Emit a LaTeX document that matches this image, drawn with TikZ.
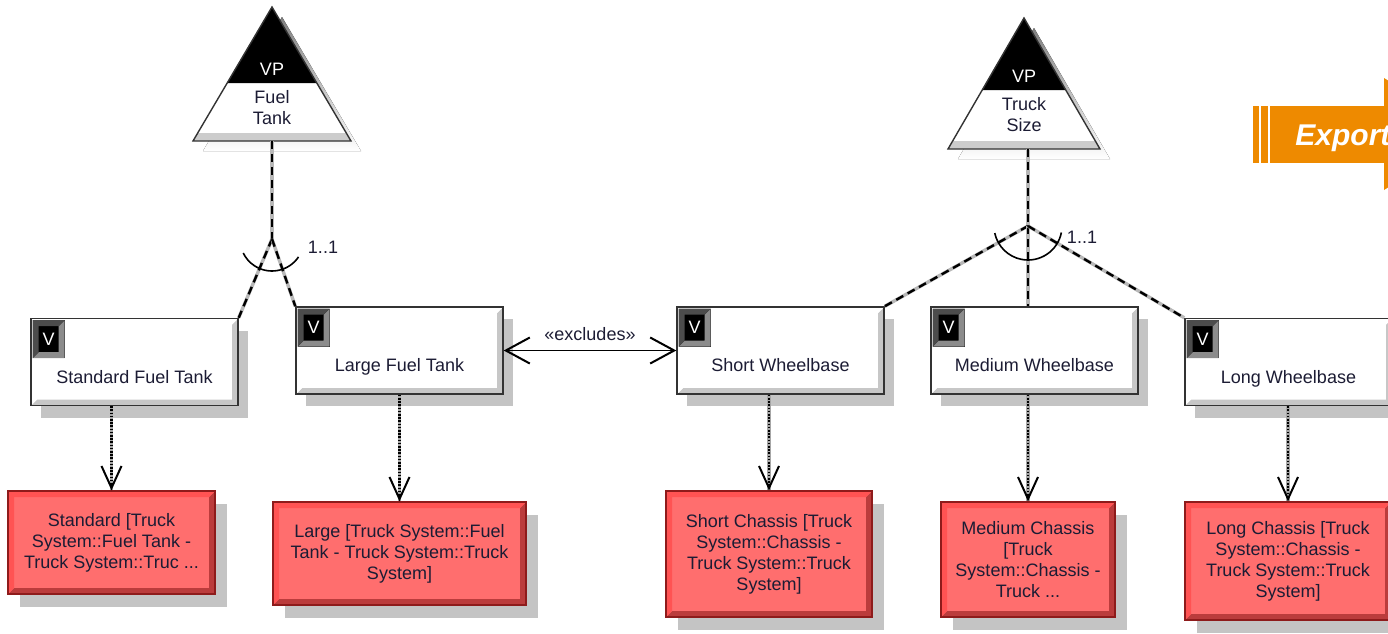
\documentclass[tikz,border=0pt]{standalone}
\usepackage{fontspec}
\setmainfont{Liberation Sans}
\usetikzlibrary{arrows.meta,positioning,calc,shadows}
\definecolor{ink}{HTML}{1C1C34}
\definecolor{redfill}{HTML}{FF6E6E}
\definecolor{redline}{HTML}{8E1B1B}
\definecolor{shade}{HTML}{C4C4C4}
\definecolor{export}{HTML}{EE8A00}

\begin{document}
\begin{tikzpicture}[x=0.5pt,y=-0.5pt,font=\fontsize{9}{10.5}\selectfont,text=ink,
    bevel/.style 2 args={path picture={
      \fill[#2] ([xshift=-3pt,yshift=-3pt]path picture bounding box.north east)
        -- (path picture bounding box.north east) -- (path picture bounding box.south east)
        -- (path picture bounding box.south west) -- ([xshift=3pt,yshift=3pt]path picture bounding box.south west)
        -- ([xshift=-3pt,yshift=3pt]path picture bounding box.south east) -- cycle;
      \fill[#1] ([xshift=-3pt,yshift=-3pt]path picture bounding box.north east)
        -- (path picture bounding box.north east) -- (path picture bounding box.north west)
        -- (path picture bounding box.south west) -- ([xshift=3pt,yshift=3pt]path picture bounding box.south west)
        -- ([xshift=3pt,yshift=-3pt]path picture bounding box.north west) -- cycle;}},
    featbox/.style={draw=black!80,fill=white,line width=0.7pt,minimum width=103.5pt,
                    text height=24pt,text depth=3pt,inner ysep=8.25pt,inner xsep=0pt,
                    drop shadow={shadow xshift=5pt,shadow yshift=-6pt,fill=shade,opacity=1},
                    bevel={white}{black!22}},
    vtag/.style={fill=black,text=white,minimum width=16pt,minimum height=19pt,inner sep=0pt,
                 anchor=north west,bevel={black!70}{black!45}},
    artbox/.style={draw=redline,fill=redfill,line width=0.6pt,align=center,inner sep=0pt,
                   drop shadow={shadow xshift=6pt,shadow yshift=-6.5pt,fill=shade,opacity=1},
                   bevel={red!25!redfill}{redline!60!redfill}},
    vpline/.style={line width=1.2pt,dash pattern=on 4pt off 2.5pt,
                   preaction={draw=black!28,line width=1.7pt,solid}},
    realize/.style={line width=1.3pt,dash pattern=on 0.8pt off 0.8pt,
                    -{Straight Barb[length=11pt,width=10pt,line width=1pt]},
                    preaction={draw=black!35,line width=1.8pt,solid,-}},
    excl/.style={line width=0.9pt,{Straight Barb[length=12pt,width=13pt,line width=1pt]}-{Straight Barb[length=12pt,width=13pt,line width=1pt]}}]
  \clip (0,0) rectangle (1388,633);

  % variation points
  \fill[shade] (282,17) -- (361,151) -- (203,151) -- cycle;
  \fill[white] (272,7) -- (351,141) -- (193,141) -- cycle;
  \fill[black!20] (197.7,133) -- (346.3,133) -- (351,141) -- (193,141) -- cycle;
  \fill[black] (272,7) -- (317,83) -- (227,83) -- cycle;
  \draw[black!80,line width=0.7pt] (272,7) -- (351,141) -- (193,141) -- cycle;
  \node[text=white] (ftvp) at (272,69) {VP};
  \node[align=center] (ft) at (272,108) {Fuel\\Tank};
  \coordinate (ftb) at (272,141);

  \fill[shade] (1034,28) -- (1110,159) -- (958,159) -- cycle;
  \fill[white] (1024,18) -- (1100,149) -- (948,149) -- cycle;
  \fill[black!20] (952.6,141) -- (1095.4,141) -- (1100,149) -- (948,149) -- cycle;
  \fill[black] (1024,18) -- (1066,90) -- (982,90) -- cycle;
  \draw[black!80,line width=0.7pt] (1024,18) -- (1100,149) -- (948,149) -- cycle;
  \node[text=white] (tsvp) at (1024,76) {VP};
  \node[align=center] (ts) at (1024,115) {Truck\\Size};
  \coordinate (tsb) at (1028,149);

  % variants
  \node[featbox] (sft) at (134.5,362)  {Standard Fuel Tank};
  \node[featbox] (lft) at (399.5,350.5) {Large Fuel Tank};
  \node[featbox] (swb) at (780.5,350.5) {Short Wheelbase};
  \node[featbox] (mwb) at (1034.5,350.5) {Medium Wheelbase};
  \node[featbox] (lwb) at (1288.5,362) {Long Wheelbase};
  \foreach \i in {sft,lft,swb,mwb,lwb}
    \node[vtag] (\i-v) at ([xshift=1pt,yshift=-1pt]\i.north west) {V};

  % artefacts
  \node[artbox,minimum width=103.5pt,minimum height=51.5pt] (std) at (111.5,542.5)
    {Standard [Truck\\System::Fuel Tank -\\Truck System::Truc ...};
  \node[artbox,minimum width=126.5pt,minimum height=51.5pt] (lrg) at (399.5,553.5)
    {Large [Truck System::Fuel\\Tank - Truck System::Truck\\System]};
  \node[artbox,minimum width=103pt,minimum height=63pt] (shc) at (769,554)
    {Short Chassis [Truck\\System::Chassis -\\Truck System::Truck\\System]};
  \node[artbox,minimum width=87pt,minimum height=57.5pt] (mdc) at (1028,559.5)
    {Medium Chassis\\{[}Truck\\System::Chassis -\\Truck ...};
  \node[artbox,minimum width=103pt,minimum height=59pt] (lgc) at (1288,561)
    {Long Chassis [Truck\\System::Chassis -\\Truck System::Truck\\System]};

  % alternative groups
  \coordinate (gl) at (272,239);
  \coordinate (gr) at (1028,226);
  \draw[vpline] (ftb) -- (gl);
  \draw[vpline] (gl) -- (sft.north east);
  \draw[vpline] (gl) -- (lft.north west);
  \draw[vpline] (tsb) -- (gr);
  \draw[vpline] (gr) -- (swb.north east);
  \draw[vpline] (gr) -- (gr |- mwb.north);
  \draw[vpline] (gr) -- (lwb.north west);
  \draw[line width=0.8pt] ([shift={(34:32)}]gl) arc[start angle=34,end angle=154,radius=32];
  \draw[line width=0.8pt] ([shift={(11:34)}]gr) arc[start angle=11,end angle=168,radius=34];
  \node (ml) at (323,247) {1..1};
  \node (mr) at (1082,237) {1..1};

  % realizations
  \foreach \f/\a in {sft/std,lft/lrg,swb/shc,mwb/mdc,lwb/lgc}
    \draw[realize] (\a |- \f.south) -- (\a.north);

  \draw[excl] (lft.east) -- (swb.west) node[midway,above=1pt] (exl) {«excludes»};

  % export banner
  \fill[export] (1253,106) rectangle (1259,163);
  \fill[export] (1261,106) rectangle (1268,163);
  \fill[export] (1270,106) rectangle (1384,163);
  \fill[export] (1384,78) -- (1400,88) -- (1400,180) -- (1384,190) -- cycle;
  \node[anchor=base west,inner sep=0pt,text=white,font=\fontsize{15}{15}\selectfont\bfseries\itshape]
    (exp) at (1295,145) {Export};
\end{tikzpicture}
\end{document}
